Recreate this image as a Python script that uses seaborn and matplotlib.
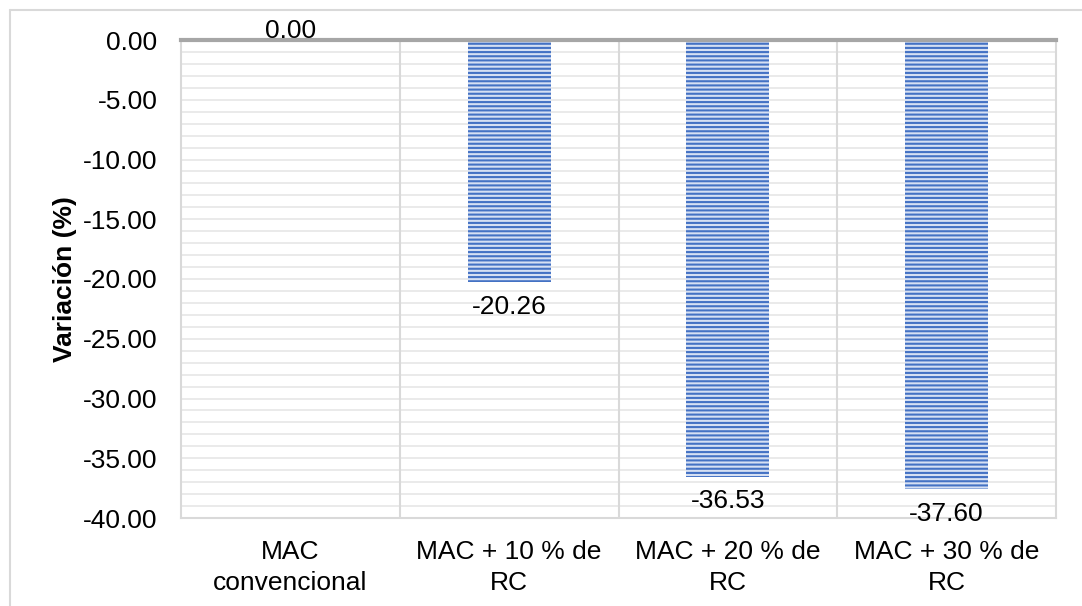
import matplotlib
matplotlib.use("Agg")
import matplotlib.pyplot as plt
import seaborn as sns
import pandas as pd
import numpy as np
from matplotlib.lines import Line2D

categories = ["MAC\nconvencional", "MAC + 10 % de\nRC", "MAC + 20 % de\nRC", "MAC + 30 % de\nRC"]
variation = [0.00, -20.26, -36.53, -37.60]
y_ticks = [0, -5, -10, -15, -20, -25, -30, -35, -40]

sns.set_theme(style="white")
plt.rcParams["font.family"] = ["Liberation Sans", "DejaVu Sans"]
plt.rcParams["hatch.linewidth"] = 1.5

FS = 19

df = pd.DataFrame({"cat": categories, "val": variation})

fig = plt.figure(figsize=(10.82, 6.06), dpi=100)
ax = fig.add_axes([181 / 1082, 1 - 518 / 606, (1056 - 181) / 1082, (518 - 40) / 606])

sns.barplot(data=df, x="cat", y="val", ax=ax, width=0.38, color="#4472C4",
            saturation=1, zorder=3)

for p in ax.patches:
    p.set_facecolor("#d6e0f3")
    p.set_edgecolor("#4472C4")
    p.set_hatch("----")
    p.set_linewidth(0)

ax.set_xlim(-0.5, len(categories) - 0.5)
ax.set_ylim(-40, 0)

# minor horizontal gridlines every unit
for yv in np.arange(-40, 0, 1.0):
    ax.axhline(yv, color="#e8e8e8", lw=1.3, zorder=1)
# category separators
for xv in np.arange(0.5, len(categories) - 0.5, 1.0):
    ax.axvline(xv, color="#d9d9d9", lw=1.5, zorder=1)

for s in ["left", "right", "bottom"]:
    ax.spines[s].set_color("#d9d9d9")
    ax.spines[s].set_linewidth(1.5)
ax.spines["top"].set_color("#a6a6a6")
ax.spines["top"].set_linewidth(3)
ax.spines["top"].set_zorder(5)

ax.set_yticks(y_ticks)
ax.set_yticklabels([f"{v:.2f}" for v in y_ticks], fontsize=FS, color="black")
ax.tick_params(axis="y", length=0, pad=17)
ax.set_xticks(range(len(categories)))
ax.set_xticklabels(categories, fontsize=FS, color="black", linespacing=1.35)
ax.tick_params(axis="x", length=0, pad=16)
ax.set_xlabel("")
ax.set_ylabel("Variación (%)", fontsize=FS, fontweight="bold", color="black", labelpad=4)

for i, v in enumerate(variation):
    if v == 0:
        ax.annotate(f"{v:.2f}", (i, v), xytext=(0, -2), textcoords="offset points",
                    ha="center", va="bottom", fontsize=FS, color="black", zorder=6)
    else:
        ax.annotate(f"{v:.2f}", (i, v), xytext=(0, -9), textcoords="offset points",
                    ha="center", va="top", fontsize=FS, color="black", zorder=6)

# outer chart frame (top and left edges)
fig.add_artist(Line2D([10 / 1082, 1], [1 - 10 / 606, 1 - 10 / 606], color="#d9d9d9", lw=1.5,
                      transform=fig.transFigure))
fig.add_artist(Line2D([10 / 1082, 10 / 1082], [0, 1 - 10 / 606], color="#d9d9d9", lw=1.5,
                      transform=fig.transFigure))

fig.savefig("out.png", dpi=100, facecolor="white")
